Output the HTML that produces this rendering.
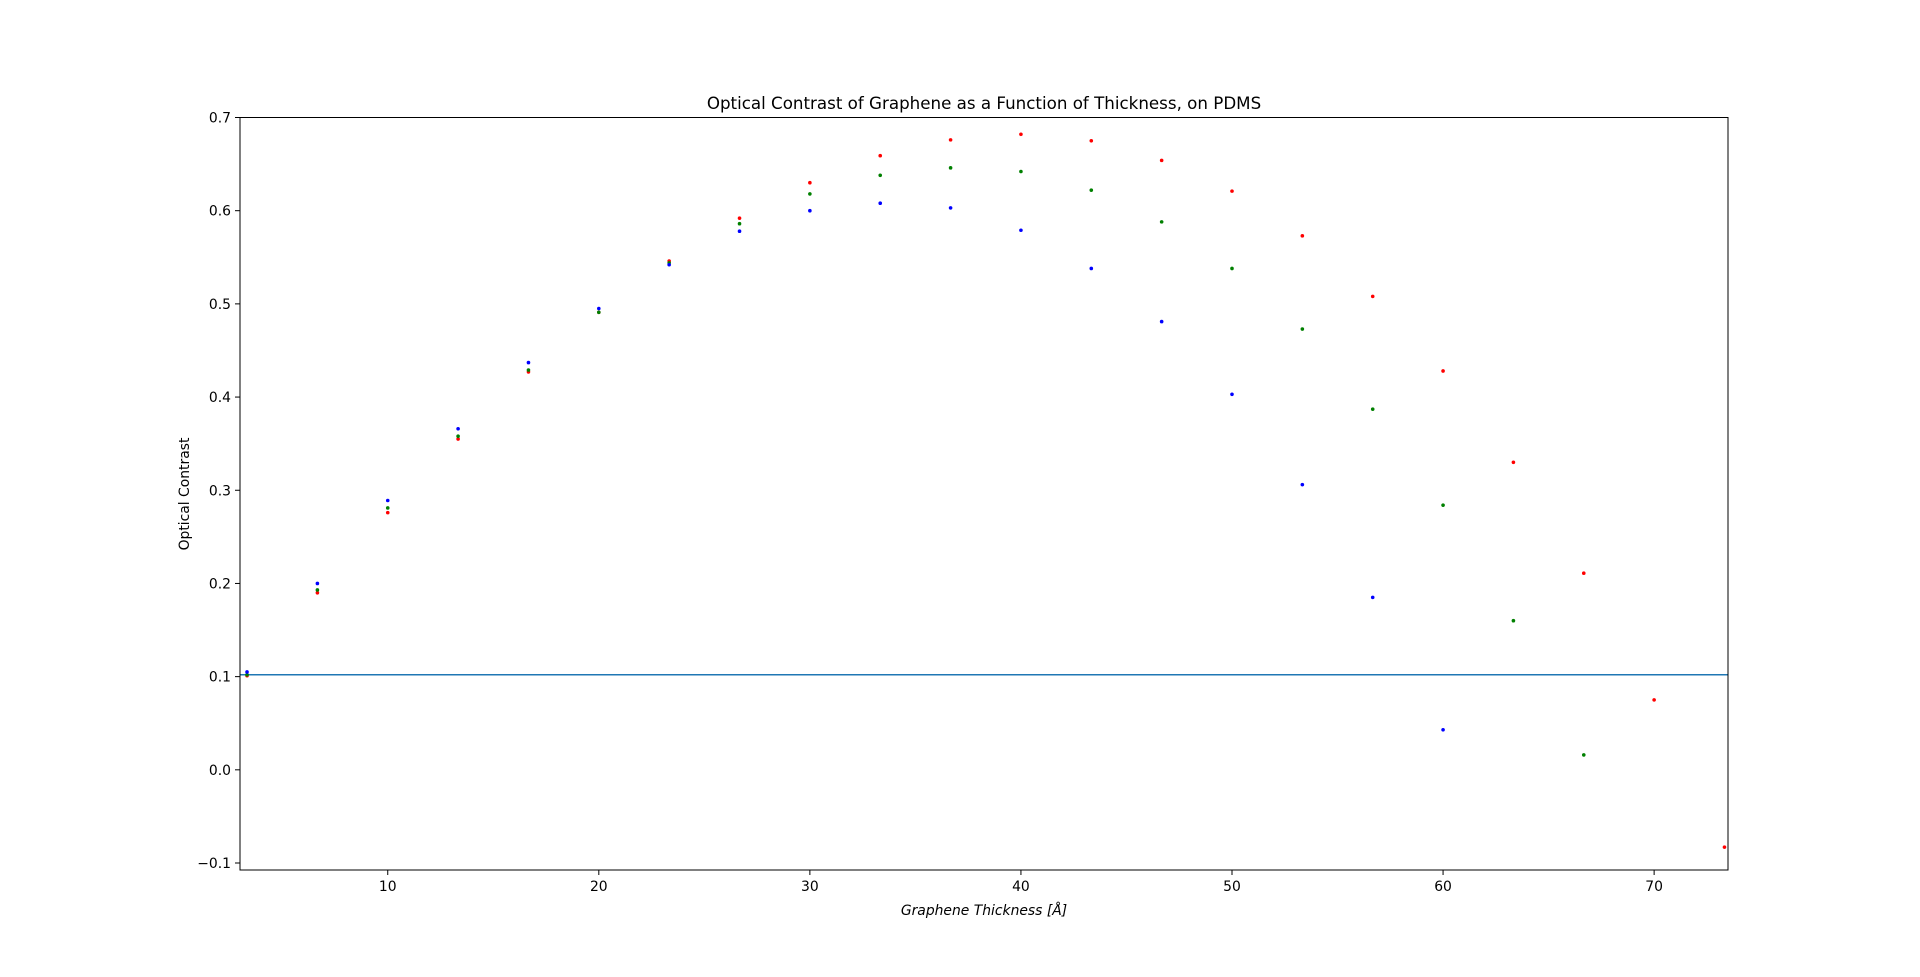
<!DOCTYPE html>
<html><head><meta charset="utf-8"><style>
html,body{margin:0;padding:0;background:#fff;}
svg{display:block;font-family:"DejaVu Sans","Liberation Sans",sans-serif;}
</style></head><body>
<svg id="chart" width="1920" height="977">
<text x="984" y="109" text-anchor="middle" font-size="16.7">Optical Contrast of Graphene as a Function of Thickness, on PDMS</text>
<text x="984" y="915" text-anchor="middle" font-size="13.9" font-style="italic">Graphene Thickness [Å]</text>
<text transform="translate(189,494) rotate(-90)" text-anchor="middle" font-size="13.9">Optical Contrast</text>
<g id="marks"></g>
<g id="ticks"></g>
<rect x="240" y="117.5" width="1488" height="752.5" fill="none" stroke="#000" stroke-width="1"/>
</svg>
<script>
const xTicks=[10,20,30,40,50,60,70];
const yTicks=[-0.1,0.0,0.1,0.2,0.3,0.4,0.5,0.6,0.7];
const thickness=[3.333,6.667,10,13.333,16.667,20,23.333,26.667,30,33.333,36.667,40,43.333,46.667,50,53.333,56.667,60,63.333,66.667,70,73.333];
const redValues=[0.101,0.190,0.276,0.355,0.427,0.491,0.546,0.592,0.630,0.659,0.676,0.682,0.675,0.654,0.621,0.573,0.508,0.428,0.330,0.211,0.075,-0.083];
const greenValues=[0.102,0.193,0.281,0.358,0.429,0.491,0.544,0.586,0.618,0.638,0.646,0.642,0.622,0.588,0.538,0.473,0.387,0.284,0.160,0.016];
const blueValues=[0.105,0.200,0.289,0.366,0.437,0.495,0.542,0.578,0.600,0.608,0.603,0.579,0.538,0.481,0.403,0.306,0.185,0.043];
const threshold=0.102;
const X0=240,X1=1728,Y0=870,Y1=117.5,xmin=3.0,xmax=73.5,ymin=-0.1075,ymax=0.7;
const sx=v=>X0+(v-xmin)/(xmax-xmin)*(X1-X0);
const sy=v=>Y0-(v-ymin)/(ymax-ymin)*(Y0-Y1);
const NS="http://www.w3.org/2000/svg";
const marks=document.getElementById('marks'),ticks=document.getElementById('ticks');
function mk(t,a,p){const e=document.createElementNS(NS,t);for(const k in a)e.setAttribute(k,a[k]);p.appendChild(e);return e;}
const hl=mk('line',{x1:X0,x2:X1,y1:sy(threshold),y2:sy(threshold),stroke:'#1f77b4','stroke-width':1.5},marks);


[[redValues,'red','red'],[greenValues,'green','green'],[blueValues,'blue','blue']].forEach(([vals,col,nm])=>{
 vals.forEach((v,i)=>{
  const c=mk('circle',{cx:sx(thickness[i]),cy:sy(v),r:1.8,fill:col},marks);
  
  
 });
});
xTicks.forEach(t=>{
 const x=sx(t);
 mk('line',{x1:x,x2:x,y1:Y0,y2:Y0+5,stroke:'#000'},ticks);
 const tx=mk('text',{x:x,y:Y0+21,'text-anchor':'middle','font-size':13.9},ticks);
 tx.textContent=t;
 
 
});
yTicks.forEach(t=>{
 const y=sy(t);
 mk('line',{x1:X0-5,x2:X0,y1:y,y2:y,stroke:'#000'},ticks);
 const tx=mk('text',{x:X0-9,y:y+5,'text-anchor':'end','font-size':13.9},ticks);
 tx.textContent=(t<0?'\u2212':'')+Math.abs(t).toFixed(1);
 
 
});
</script>
</body></html>
